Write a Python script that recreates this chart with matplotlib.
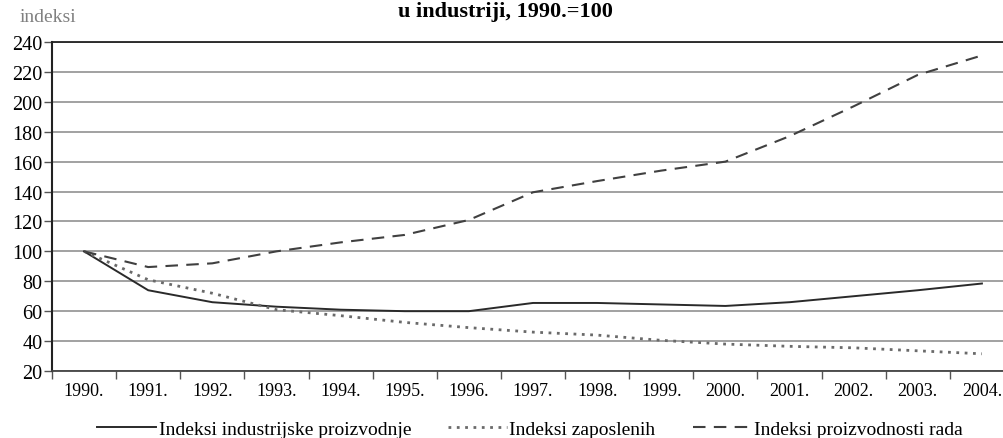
import numpy as np
import matplotlib.pyplot as plt

# godine i serije
years = ['1990.', '1991.', '1992.', '1993.', '1994.', '1995.', '1996.', '1997.',
         '1998.', '1999.', '2000.', '2001.', '2002.', '2003.', '2004.']
proizvodnja = [100, 74, 66, 63, 61, 60, 60, 65.5, 65.5, 64.5, 63.5, 66, 70, 74, 78.5]
zaposleni = [100, 81, 72, 61, 57, 52.5, 49, 46, 44, 40.5, 38, 36.5, 35.5, 33.5, 31.5]
produktivnost = [100, 89.5, 92, 100, 106, 111, 121, 139.5, 147, 154, 160, 177, 197, 218, 231]
yticks = list(range(20, 241, 20))

plt.rcParams['font.family'] = ['Liberation Serif', 'DejaVu Serif']

fig = plt.figure(figsize=(10.04, 4.39), dpi=100)
ax = fig.add_axes([52/1004, 1-372/439, 962/1004, 329/439])

x = np.arange(len(years))
ax.plot(x, proizvodnja, color='#2a2a2a', lw=1.4, ls='-', label='Indeksi industrijske proizvodnje')
ax.plot(x, zaposleni, color='#6a6a6a', lw=2.0, ls=(0, (1, 2.0)), label='Indeksi zaposlenih')
ax.plot(x, produktivnost, color='#404040', lw=1.5, ls=(0, (6, 4)), label='Indeksi proizvodnosti rada')

ax.set_xlim(-0.5, len(years) - 0.5)
ax.set_ylim(20, 240)
ax.set_yticks(yticks)
ax.tick_params(axis='y', labelsize=14.5, length=6, width=1, color='#555555', pad=1)
ax.set_xticks(x)
ax.set_xticklabels(years)
ax.set_xticks(np.arange(len(years) + 1) - 0.5, minor=True)
ax.tick_params(axis='x', which='major', length=0, labelsize=13, pad=8)
ax.tick_params(axis='x', which='minor', length=6, width=1, color='#555555')

ax.grid(axis='y', color='#9a9a9a', lw=1.3)
ax.set_axisbelow(True)
ax.spines['right'].set_visible(False)
ax.spines['top'].set_color('#222222')
ax.spines['top'].set_linewidth(1.3)
ax.spines['left'].set_color('#222222')
ax.spines['left'].set_linewidth(1.5)
ax.spines['bottom'].set_color('#444444')
ax.spines['bottom'].set_linewidth(1.3)

fig.text(20/1004, 1-18/439, 'indeksi', fontsize=14, color='#808080', ha='left', va='center')
fig.text(505/1004, 1-17/439, 'u industriji, 1990.=100', fontsize=16, fontweight='bold',
         ha='center', va='baseline')

fig.legend(loc='center', bbox_to_anchor=(530/1004, 1-430/439), ncol=3, frameon=False,
           fontsize=14, handlelength=3, columnspacing=1.9, handletextpad=0.15)

fig.savefig('out.png', dpi=100)
